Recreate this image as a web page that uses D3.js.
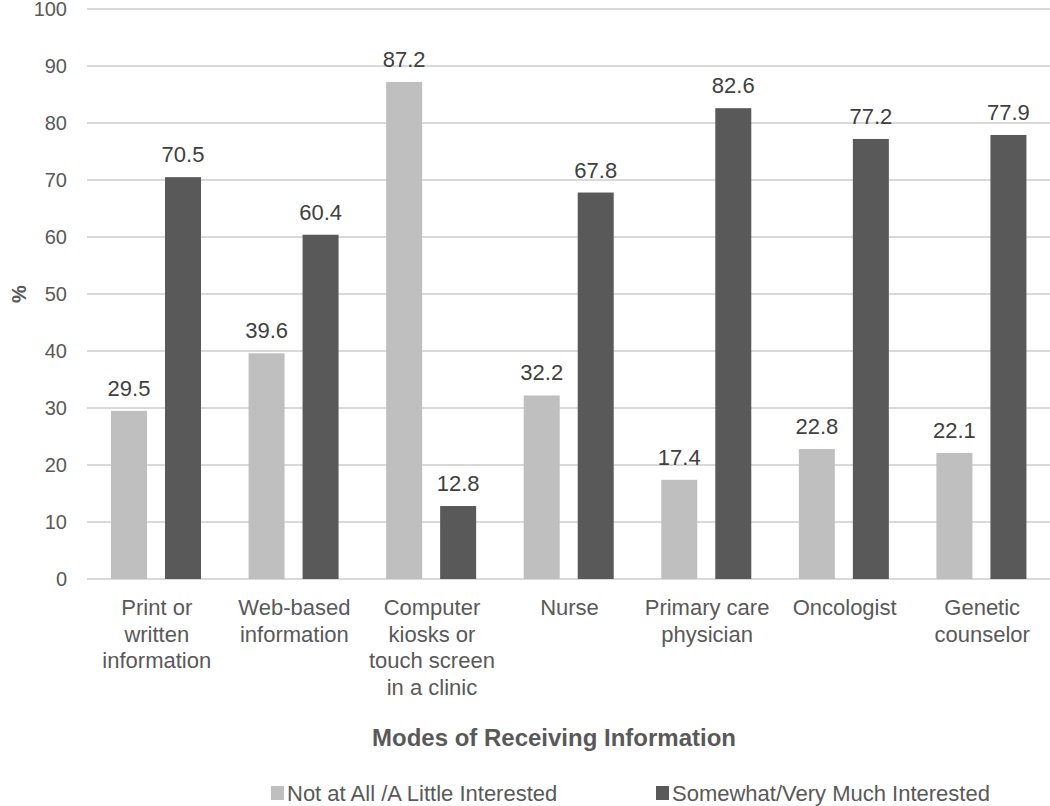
<!DOCTYPE html>
<html>
<head>
<meta charset="utf-8">
<script src="https://cdnjs.cloudflare.com/ajax/libs/d3/7.8.5/d3.min.js"></script>
<style>
  body { margin: 0; background: #fff; }
  text { font-family: "Liberation Sans", Arial, sans-serif; }
</style>
</head>
<body>
<script>
var categories = [
    ["Print or", "written", "information"],
    ["Web-based", "information"],
    ["Computer", "kiosks or", "touch screen", "in a clinic"],
    ["Nurse"],
    ["Primary care", "physician"],
    ["Oncologist"],
    ["Genetic", "counselor"]
];
var seriesNames = ["Not at All /A Little Interested", "Somewhat/Very Much Interested"];
var notInterested = [29.5, 39.6, 87.2, 32.2, 17.4, 22.8, 22.1];
var interested = [70.5, 60.4, 12.8, 67.8, 82.6, 77.2, 77.9];
var yTicks = [0, 10, 20, 30, 40, 50, 60, 70, 80, 90, 100];
var colors = ["#bfbfbf", "#595959"];

var width = 1050, height = 806;
var plotLeft = 87, plotRight = 1050, plotTop = 9, plotBottom = 579;

var svg = d3.select("body").append("svg")
    .attr("width", width)
    .attr("height", height);

var x0 = d3.scaleBand()
    .domain(d3.range(categories.length))
    .range([plotLeft, plotRight]);

var x1 = d3.scaleBand()
    .domain([0, 1])
    .range([24, 114])
    .paddingInner(1 / 3);

var y = d3.scaleLinear()
    .domain([0, 100])
    .range([plotBottom, plotTop]);

// gridlines
svg.append("g").selectAll("line")
        .data(yTicks)
    .enter().append("line")
        .attr("x1", plotLeft)
        .attr("x2", plotRight)
        .attr("y1", function(d){ return y(d); })
        .attr("y2", function(d){ return y(d); })
        .style("stroke", "#d9d9d9")
        .style("stroke-width", 2);

// y tick labels
svg.append("g").selectAll("text")
        .data(yTicks)
    .enter().append("text")
        .attr("x", 67)
        .attr("y", function(d){ return y(d); })
        .attr("dy", "0.36em")
        .style("text-anchor", "end")
        .style("font-size", "20px")
        .style("fill", "#595959")
        .text(function(d){ return d; });

svg.append("text")
    .attr("transform", "translate(19," + y(50) + ") rotate(-90)")
    .attr("dy", "0.35em")
    .style("text-anchor", "middle")
    .style("font-size", "20px")
    .style("font-weight", "bold")
    .style("fill", "#595959")
    .text("%");

var series = [notInterested, interested];

series.forEach(function(vals, s){
    var g = svg.append("g");
    g.selectAll("rect")
            .data(vals)
        .enter().append("rect")
            .attr("x", function(d, i){ return x0(i) + x1(s); })
            .attr("width", x1.bandwidth())
            .attr("y", function(d){ return y(d); })
            .attr("height", function(d){ return y(0) - y(d); })
            .style("fill", colors[s]);
    g.selectAll("text")
            .data(vals)
        .enter().append("text")
            .attr("x", function(d, i){ return x0(i) + x1(s) + x1.bandwidth() / 2; })
            .attr("y", function(d){ return y(d) - 15; })
            .style("text-anchor", "middle")
            .style("font-size", "22px")
            .style("fill", "#404040")
            .text(function(d){ return d.toFixed(1); });
});

// category labels
var cat = svg.append("g").selectAll("text")
        .data(categories)
    .enter().append("text")
        .attr("y", 615)
        .style("text-anchor", "middle")
        .style("font-size", "22px")
        .style("fill", "#595959");
cat.selectAll("tspan")
        .data(function(d, i){ return d.map(function(t){ return {t: t, i: i}; }); })
    .enter().append("tspan")
        .attr("x", function(d){ return x0(d.i) + x0.bandwidth() / 2 + 1; })
        .attr("dy", function(d, j){ return j === 0 ? 0 : 26.5; })
        .text(function(d){ return d.t; });

svg.append("text")
    .attr("x", 554)
    .attr("y", 746)
    .style("text-anchor", "middle")
    .style("font-size", "24px")
    .style("font-weight", "bold")
    .style("fill", "#595959")
    .text("Modes of Receiving Information");

// legend
var legendX = [271, 656];
var legend = svg.append("g").selectAll("g")
        .data(seriesNames)
    .enter().append("g")
        .attr("transform", function(d, i){ return "translate(" + legendX[i] + ",786)"; });
legend.append("rect")
    .attr("width", 13)
    .attr("height", 14)
    .style("fill", function(d, i){ return colors[i]; });
legend.append("text")
    .attr("x", 16)
    .attr("y", 15)
    .style("font-size", "22px")
    .style("fill", "#595959")
    .text(function(d){ return d; });
</script>
</body>
</html>
